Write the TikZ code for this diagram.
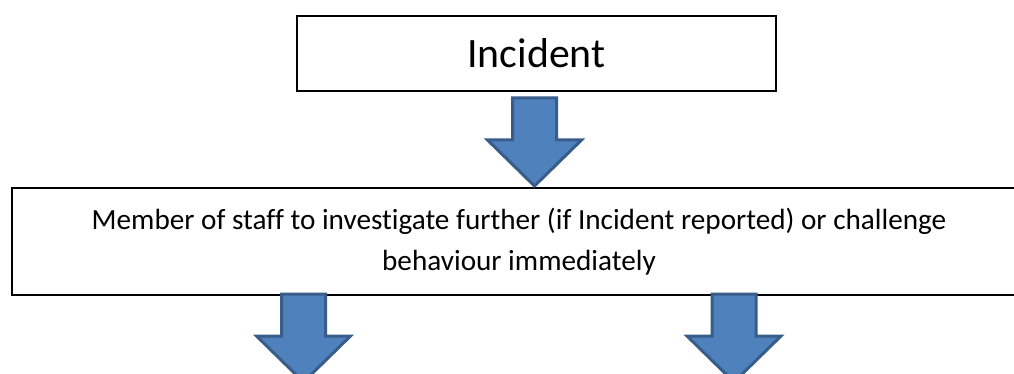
\documentclass[tikz,border=0pt]{standalone}
\usepackage{fontspec}
\setmainfont{Carlito}[Ligatures=CommonOff]
\definecolor{arrowfill}{HTML}{4F81BD}
\definecolor{arrowline}{HTML}{385D8A}
\usetikzlibrary{positioning}

\begin{document}
\begin{tikzpicture}[
  x=1pt, y=-1pt,
  box/.style={
    draw=black, line width=2.2pt, inner sep=0pt,
    align=center, text=black,
  },
  blockdown/.style={
    fill=arrowfill, draw=arrowline, line width=3pt, line join=miter,
  },
  downarrow/.pic={
    \draw[blockdown] (-22,0) -- (22,0) -- (22,42) -- (47,42)
      -- (0,88) -- (-47,42) -- (-22,42) -- cycle;
  },
]

% page frame, the lower box and arrows run off the edge
\useasboundingbox (0,0) rectangle (1014,374);
\clip (0,0) rectangle (1014,374);

% top box
\node[box, minimum width=479, minimum height=75,
  font=\fontsize{41.8}{50}\selectfont] (incident) at (536.5,53.5) {Incident};

% wide box, open at the right
\node[box, line width=1.6pt, minimum width=1014, minimum height=107,
  font=\fontsize{29.2}{41}\selectfont] (staff) at (519,241.5)
  {Member of staff to investigate further (if Incident reported) or challenge\\
   behaviour immediately};

% block arrows
\pic at (534.5,98) {downarrow};
\pic at (303.5,294) {downarrow};
\pic at (734,294) {downarrow};

\end{tikzpicture}
\end{document}
